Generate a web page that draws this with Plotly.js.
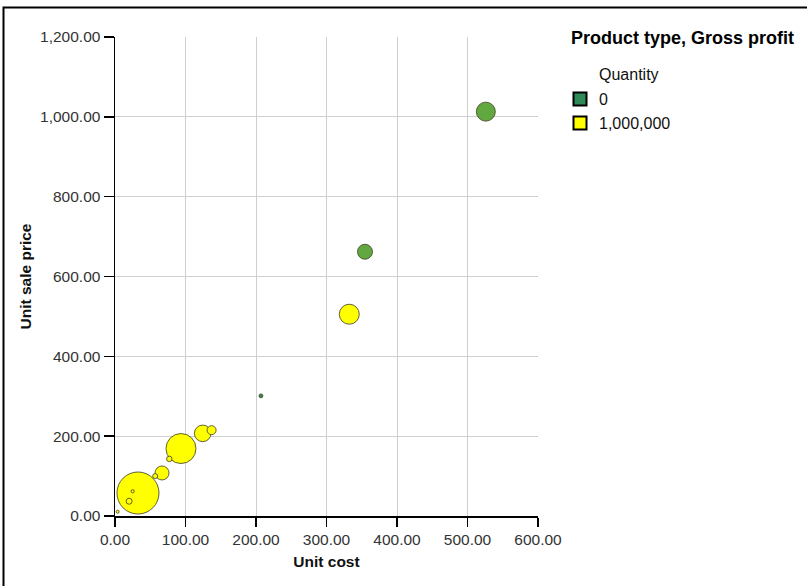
<!DOCTYPE html>
<html>
<head>
<meta charset="utf-8">
<script src="https://cdn.plot.ly/plotly-3.0.1.min.js"></script>
<style>html,body{margin:0;padding:0;background:#fff;}#chart{width:807px;height:586px;}</style>
</head>
<body>
<div id="chart"></div>
<script>
// Data (one bubble per product type)
const unitCost      = [32.6, 93.6, 332.3, 526, 124.4, 354.6, 66.7, 137, 77, 57, 25, 20, 3.8, 207];
const unitSalePrice = [57.6, 169, 505.5, 1013, 207, 662, 107.8, 215, 143, 100, 62, 37, 10.8, 301];
const grossProfit   = [35300000, 18000000, 8000000, 7220000, 5500000, 4500000, 3920000, 1620000, 600000, 500000, 200000, 720000, 180000, 300000];
const quantity      = [1000000, 1000000, 1000000, 250000, 1000000, 250000, 1000000, 1000000, 1000000, 1000000, 1000000, 1000000, 1000000, 0];

// Legend values
const legendValues = [0, 1000000];
const legendLabels = ['0', '1,000,000'];
const legendRows   = [1, 0];

const colorscale = [[0, '#2E8B57'], [1, '#FFFF00']];
const FONT = 'Liberation Sans, Arial, sans-serif';

const bubbles = {
  type: 'scatter', mode: 'markers',
  x: unitCost, y: unitSalePrice,
  xaxis: 'x', yaxis: 'y',
  marker: {
    size: grossProfit, sizemode: 'area', sizeref: 40000, sizemin: 1, opacity: 1,
    color: quantity, colorscale: colorscale, cmin: 0, cmax: 1000000, showscale: false,
    line: {color: 'rgba(70,70,40,0.85)', width: 1}
  },
  showlegend: false, hoverinfo: 'x+y'
};

const legendSwatches = {
  type: 'scatter', mode: 'markers',
  x: legendValues.map(() => 0.5), y: legendRows,
  xaxis: 'x2', yaxis: 'y2',
  marker: {
    symbol: 'square', size: 13, opacity: 1,
    color: legendValues, colorscale: colorscale, cmin: 0, cmax: 1000000, showscale: false,
    line: {color: '#000', width: 2}
  },
  showlegend: false, hoverinfo: 'skip'
};

const W = 807, H = 586, ML = 115, MR = 10, MT = 37, MB = 70;
const pw = W - ML - MR, ph = H - MT - MB;
const px2x = p => (p - ML) / pw;
const px2y = p => (H - MB - p) / ph;

const annotations = legendLabels.map((t, i) => ({
  xref: 'x2', yref: 'y2', x: 0.5, y: legendRows[i], xshift: 17,
  text: t, showarrow: false, xanchor: 'left', yanchor: 'middle',
  font: {family: FONT, size: 16, color: '#111'}
}));
annotations.push({
  xref: 'paper', yref: 'paper', x: px2x(569), y: px2y(38),
  text: '<b>Product type, Gross profit</b>', showarrow: false,
  xanchor: 'left', yanchor: 'middle', font: {family: FONT, size: 18, color: '#000'}
});
annotations.push({
  xref: 'paper', yref: 'paper', x: px2x(597), y: px2y(74),
  text: 'Quantity', showarrow: false,
  xanchor: 'left', yanchor: 'middle', font: {family: FONT, size: 16, color: '#111'}
});

const layout = {
  width: W, height: H,
  margin: {l: ML, r: MR, t: MT, b: MB, pad: 0},
  paper_bgcolor: '#fff', plot_bgcolor: '#fff',
  font: {family: FONT, size: 16, color: '#333'},
  xaxis: {
    domain: [0, 423 / pw], range: [0, 600], dtick: 100, tick0: 0,
    tickformat: ',.2f', showgrid: true, gridcolor: '#cfcfcf', gridwidth: 1,
    zeroline: false, showline: true, linecolor: '#000', linewidth: 1.5,
    ticks: 'outside', ticklen: 9, tickcolor: '#000', tickwidth: 1.5,
    tickfont: {family: FONT, size: 15.5, color: '#333'},
    title: {text: '<b>Unit cost</b>', font: {family: FONT, size: 15.5, color: '#111'}, standoff: 9},
    fixedrange: true
  },
  yaxis: {
    domain: [0, 1], range: [0, 1200], dtick: 200, tick0: 0,
    tickformat: ',.2f', showgrid: true, gridcolor: '#cfcfcf', gridwidth: 1,
    zeroline: false, showline: true, linecolor: '#000', linewidth: 1.5,
    ticks: 'outside', ticklen: 10, tickcolor: '#000', tickwidth: 1.5,
    tickfont: {family: FONT, size: 15.5, color: '#333'},
    title: {text: '<b>Unit sale price</b>', font: {family: FONT, size: 15.5, color: '#111'}, standoff: 4},
    fixedrange: true
  },
  xaxis2: {domain: [px2x(570), px2x(590)], range: [0, 1], visible: false, anchor: 'y2', fixedrange: true},
  yaxis2: {domain: [px2y(135), px2y(87)], range: [-0.5, 1.5], visible: false, anchor: 'x2', fixedrange: true},
  annotations: annotations,
  shapes: [{
    type: 'rect', xref: 'paper', yref: 'paper',
    x0: px2x(3.5), x1: px2x(830), y0: px2y(620), y1: px2y(7.5),
    line: {color: '#000', width: 2}, fillcolor: 'rgba(0,0,0,0)', layer: 'above'
  }],
  showlegend: false
};

Plotly.newPlot('chart', [bubbles, legendSwatches], layout, {displayModeBar: false, staticPlot: true});
</script>
</body>
</html>
